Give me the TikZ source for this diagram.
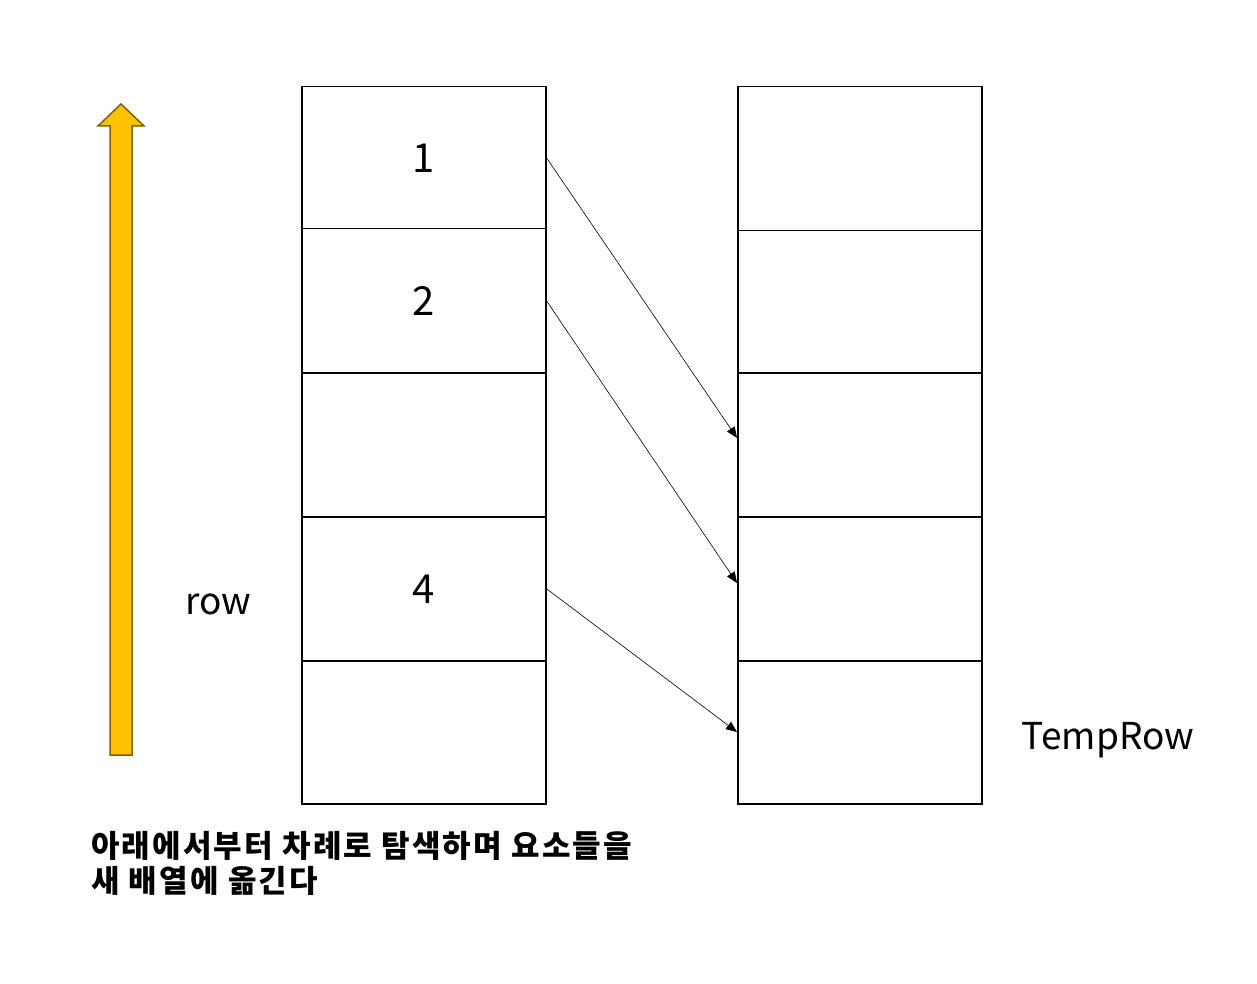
\documentclass[tikz,border=0pt]{standalone}
\usepackage{fontspec}
\setmainfont{Noto Sans CJK KR}
\newfontfamily\kfont[LetterSpace=7]{Noto Sans CJK KR}
\usetikzlibrary{arrows.meta,shapes.arrows}
\definecolor{arrowfill}{HTML}{FFC000}
\definecolor{arrowline}{HTML}{7F6000}
\begin{document}
\begin{tikzpicture}[x=1pt,y=-1pt,
  cell/.style={draw=black,line width=1.5pt,minimum width=244pt,inner sep=0pt,font=\fontsize{40}{48}\selectfont},
  link/.style={draw=black,line width=0.6pt,-{Triangle[length=11pt,width=9pt]}},
  lbl/.style={font=\fontsize{37}{44}\selectfont,inner sep=0pt}]
\useasboundingbox (0,0) rectangle (1257,984);
% left column
\node[cell,minimum height=142pt,anchor=north west] (l1) at (301,86) {1};
\node[cell,minimum height=144pt,anchor=north west] (l2) at (301,228) {2};
\node[cell,minimum height=144pt,anchor=north west] (l3) at (301,372) {};
\node[cell,minimum height=144pt,anchor=north west] (l4) at (301,516) {4};
\node[cell,minimum height=143pt,anchor=north west] (l5) at (301,660) {};
% right column
\node[cell,minimum height=144pt,anchor=north west] (r1) at (737,86) {};
\node[cell,minimum height=142pt,anchor=north west] (r2) at (737,230) {};
\node[cell,minimum height=144pt,anchor=north west] (r3) at (737,372) {};
\node[cell,minimum height=144pt,anchor=north west] (r4) at (737,516) {};
\node[cell,minimum height=143pt,anchor=north west] (r5) at (737,660) {};
% connectors
\coordinate (e1) at (737,438);
\coordinate (e2) at (737,583);
\coordinate (e3) at (737,732);
\draw[link] (l1.east) -- (e1);
\draw[link] (l2.east) -- (e2);
\draw[link] (l4.east) -- (e3);
% yellow arrow
\draw[fill=arrowfill,draw=arrowline,line width=1.5pt,line join=miter]
  (110,755) -- (132,755) -- (132,126) -- (144,126) -- (121,104) -- (98,126) -- (110,126) -- cycle;
% labels
\node[lbl] (row) at (218,604) {row};
\node[lbl] (temprow) at (1108,740) {TempRow};
\node[font=\kfont\bfseries\fontsize{31}{35}\selectfont,anchor=north west,align=left,inner sep=0pt] (note) at (91,831)
  {아래에서부터 차례로 탐색하며 요소들을\\새 배열에 옮긴다};
\end{tikzpicture}
\end{document}
